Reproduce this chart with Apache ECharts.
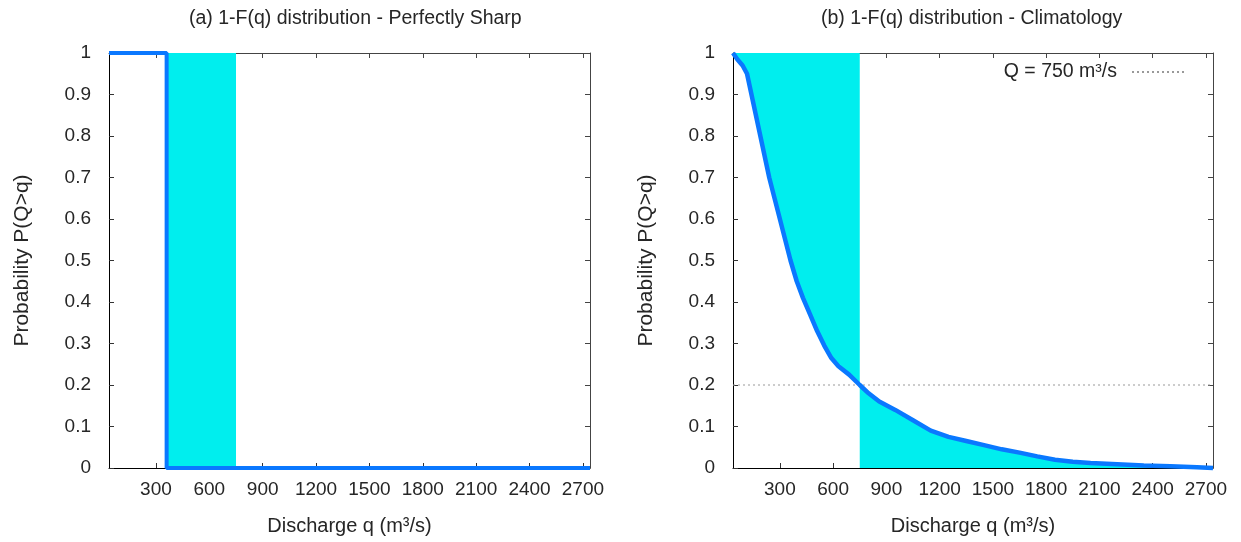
<!DOCTYPE html>
<html>
<head>
<meta charset="utf-8">
<script src="https://cdn.jsdelivr.net/npm/echarts@6/dist/echarts.min.js"></script>
<style>
  html, body { margin: 0; padding: 0; background: #fff; }
  #chart { width: 1241px; height: 542px; }
</style>
</head>
<body>
<div id="chart"></div>
<script>
// x range of the discharge sample, tick labels
var qMin = 36, qMax = 2740;
var xTicks = [300, 600, 900, 1200, 1500, 1800, 2100, 2400, 2700];
var qObs = 750;

// (a) perfectly sharp forecast: step from 1 to 0 at q = 360
var sharpLine = [[36, 1], [360, 1], [360, 0], [2740, 0]];
var sharpFill = [[360, 1], [750, 1]];

// (b) climatology 1-F(q)
var climQ = [36, 60, 90, 115, 140, 165, 190, 215, 240, 270, 300, 330, 360, 395, 430, 470, 510, 550, 590, 630, 690, 750,
             800, 860, 950, 1050, 1150, 1250, 1350, 1450, 1550, 1650, 1750, 1850, 1950, 2050, 2200, 2350, 2500, 2650, 2740];
var climP = [1, 0.985, 0.97, 0.95, 0.9, 0.85, 0.8, 0.75, 0.7, 0.65, 0.6, 0.55, 0.5, 0.45, 0.41, 0.37, 0.33, 0.295, 0.265, 0.245, 0.225, 0.2,
             0.18, 0.16, 0.14, 0.115, 0.09, 0.075, 0.065, 0.055, 0.045, 0.037, 0.028, 0.02, 0.015, 0.012, 0.009, 0.006, 0.004, 0.002, 0];
var refLevel = 0.2;

var clim = climQ.map(function (q, i) { return [q, climP[i]]; });
var climLeft = clim.filter(function (d) { return d[0] <= qObs; });
var climRight = clim.filter(function (d) { return d[0] >= qObs; });

var blue = '#0a78ff';
var cyan = '#00eeee';
var font = 'Liberation Sans, Arial, sans-serif';
var txt = '#262626';

function bottomX(gi) {
    return {
        type: 'value', gridIndex: gi, min: qMin, max: qMax, position: 'bottom',
        splitLine: { show: false },
        axisLine: { onZero: false, lineStyle: { color: '#000', width: 1 } },
        axisTick: { inside: true, length: 5, customValues: xTicks, lineStyle: { color: '#333' } },
        axisLabel: {
            customValues: xTicks, color: txt, fontSize: 19, fontFamily: font, margin: 12,
            formatter: function (v) { return String(v); }
        },
        name: 'Discharge q (m³/s)', nameLocation: 'middle', nameGap: 48,
        nameTextStyle: { color: txt, fontSize: 20, fontFamily: font }
    };
}
function topX(gi) {
    return {
        type: 'value', gridIndex: gi, min: qMin, max: qMax, position: 'top',
        splitLine: { show: false },
        axisLine: { onZero: false, lineStyle: { color: '#444' } },
        axisTick: { inside: true, length: 5, customValues: xTicks, lineStyle: { color: '#444' } },
        axisLabel: { show: false }
    };
}
function leftY(gi) {
    return {
        type: 'value', gridIndex: gi, min: 0, max: 1, interval: 0.1, position: 'left',
        splitLine: { show: false },
        axisLine: { show: true, onZero: false, lineStyle: { color: '#000' } },
        axisTick: { show: true, inside: true, length: 5, lineStyle: { color: '#333' } },
        axisLabel: { color: txt, fontSize: 19, fontFamily: font, margin: 18 },
        name: 'Probability P(Q>q)', nameLocation: 'middle', nameGap: 76,
        nameTextStyle: { color: txt, fontSize: 21, fontFamily: font }
    };
}
function rightY(gi) {
    return {
        type: 'value', gridIndex: gi, min: 0, max: 1, interval: 0.1, position: 'right',
        splitLine: { show: false },
        axisLine: { show: true, onZero: false, lineStyle: { color: '#444' } },
        axisTick: { show: true, inside: true, length: 5, lineStyle: { color: '#444' } },
        axisLabel: { show: false }
    };
}

var chart = echarts.init(document.getElementById('chart'));

var option = {
    backgroundColor: '#fff',
    animation: false,
    title: [
        { text: '(a) 1-F(q) distribution - Perfectly Sharp', left: 184, top: 4,
          textStyle: { fontSize: 19.5, fontWeight: 'normal', color: txt, fontFamily: font } },
        { text: '(b) 1-F(q) distribution - Climatology', left: 816, top: 4,
          textStyle: { fontSize: 19.5, fontWeight: 'normal', color: txt, fontFamily: font } }
    ],
    legend: {
        data: ['Q = 750 m³/s'],
        right: 49, top: 57,
        align: 'right',
        itemWidth: 54, itemHeight: 8,
        itemStyle: { opacity: 0 },
        textStyle: { color: txt, fontSize: 19.5, fontFamily: font, padding: [0, 10, 0, 0] }
    },
    grid: [
        { left: 109, right: 651, top: 53, bottom: 74 },
        { left: 733, right: 28, top: 53, bottom: 74 }
    ],
    xAxis: [bottomX(0), topX(0), bottomX(1), topX(1)],
    yAxis: [leftY(0), rightY(0), leftY(1), rightY(1)],
    series: [
        {
            type: 'line', xAxisIndex: 0, yAxisIndex: 0, data: sharpFill,
            symbol: 'none', lineStyle: { width: 0 },
            areaStyle: { color: cyan, opacity: 1, origin: 'start' }, z: 1
        },
        {
            type: 'line', xAxisIndex: 0, yAxisIndex: 0, data: sharpLine,
            symbol: 'none', clip: false, lineStyle: { color: blue, width: 4 }, z: 3
        },
        {
            type: 'line', xAxisIndex: 2, yAxisIndex: 2, data: climLeft,
            symbol: 'none', lineStyle: { width: 0 },
            areaStyle: { color: cyan, opacity: 1, origin: 'end' }, z: 1
        },
        {
            type: 'line', xAxisIndex: 2, yAxisIndex: 2, data: climRight,
            symbol: 'none', lineStyle: { width: 0 },
            areaStyle: { color: cyan, opacity: 1, origin: 'start' }, z: 1
        },
        {
            name: 'Q = 750 m³/s',
            type: 'line', xAxisIndex: 2, yAxisIndex: 2,
            data: [[qMin, refLevel], [qMax, refLevel]],
            symbol: 'none', itemStyle: { color: '#999' },
            lineStyle: { color: '#999', width: 1, type: [2, 3] }, z: 2
        },
        {
            type: 'line', xAxisIndex: 2, yAxisIndex: 2, data: clim,
            symbol: 'none', clip: false, lineStyle: { color: blue, width: 4.5 }, z: 3
        }
    ]
};

chart.setOption(option);
</script>
</body>
</html>
